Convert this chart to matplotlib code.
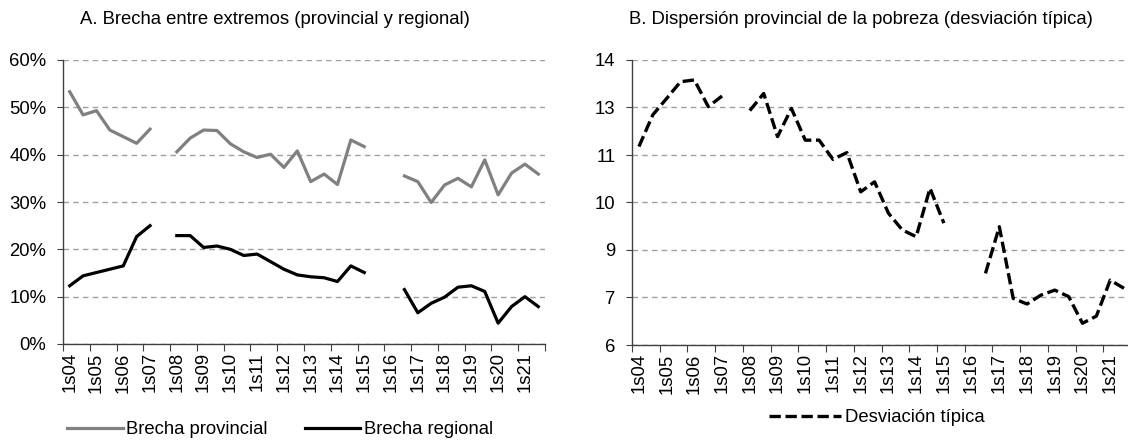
import numpy as np
import matplotlib
matplotlib.use('Agg')
import matplotlib.pyplot as plt
from matplotlib.lines import Line2D

plt.rcParams['font.family'] = ['Liberation Sans', 'DejaVu Sans']
plt.rcParams['font.size'] = 13.3

# semesters 1s04 .. 2s21
years = list(range(4, 22))
semesters = []
for y in years:
    semesters += ['1s%02d' % y, '2s%02d' % y]
tick_labels = ['1s%02d' % y for y in years]

nan = np.nan
# A. gap between extremes (%)
brecha_provincial = [53.3, 48.4, 49.3, 45.2, 43.8, 42.4, 45.4, nan,
                     40.6, 43.5, 45.2, 45.1, 42.3, 40.6, 39.4, 40.1,
                     37.3, 40.8, 34.3, 35.9, 33.7, 43.1, 41.7, nan,
                     nan, 35.5, 34.3, 29.9, 33.6, 35.0, 33.2, 38.9,
                     31.5, 36.1, 38.0, 35.9]
brecha_regional = [12.3, 14.4, 15.1, 15.8, 16.5, 22.7, 25.0, nan,
                   22.9, 22.9, 20.4, 20.7, 20.0, 18.7, 19.0, 17.4,
                   15.8, 14.6, 14.2, 14.0, 13.2, 16.5, 15.1, nan,
                   nan, 11.5, 6.6, 8.6, 9.9, 12.0, 12.3, 11.1,
                   4.4, 7.9, 10.0, 7.9]
# B. standard deviation
desviacion = [11.57, 12.46, 12.92, 13.39, 13.44, 12.69, 12.99, nan,
              12.58, 13.06, 11.85, 12.64, 11.75, 11.75, 11.21, 11.40,
              10.30, 10.58, 9.70, 9.23, 9.04, 10.40, 9.42, nan,
              nan, 8.01, 9.32, 7.31, 7.15, 7.40, 7.54, 7.36,
              6.61, 6.81, 7.82, 7.59]

W, H = 1128, 441
fig = plt.figure(figsize=(W / 100, H / 100), dpi=100)
ax0 = fig.add_axes([63 / W, 1 - 344 / H, (545 - 63) / W, (344 - 60) / H])
ax1 = fig.add_axes([632 / W, 1 - 345 / H, (1131 - 632) / W, (345 - 60) / H])

x = np.arange(len(semesters))
grid_kw = dict(color='#a0a0a0', lw=1.0, ls=(0, (4, 3)))
spine_col = '#404040'
dash = (0, (3.4, 1.4))


def style_axis(ax):
    for s in ['top', 'right']:
        ax.spines[s].set_visible(False)
    for s in ['left', 'bottom']:
        ax.spines[s].set_color(spine_col)
        ax.spines[s].set_linewidth(1.0)
    ax.set_xlim(-0.5, len(semesters) - 0.5)
    ax.set_xticks(np.arange(-0.5, len(semesters), 2))
    ax.set_xticklabels([])
    ax.set_xticks(np.arange(0, len(semesters), 2), minor=True)
    ax.set_xticklabels(tick_labels, minor=True, rotation=90)
    ax.tick_params(axis='x', which='major', length=5, direction='out',
                   color=spine_col)
    ax.tick_params(axis='x', which='minor', length=0, pad=6)
    ax.tick_params(axis='y', length=4, direction='out', color=spine_col,
                   pad=8)
    ax.yaxis.grid(True, **grid_kw)
    ax.set_axisbelow(True)


style_axis(ax0)
ax0.plot(x, brecha_provincial, color='#808080', lw=2.3)
ax0.plot(x, brecha_regional, color='black', lw=2.3)
ax0.set_ylim(0, 60)
ax0.set_yticks(np.arange(0, 61, 10))
ax0.set_yticklabels(['%d%%' % v for v in range(0, 61, 10)])

style_axis(ax1)
ax1.plot(x, desviacion, color='black', lw=2.4, ls=dash)
ax1.set_ylim(6, 14)
yt = np.linspace(6, 14, 7)
ax1.set_yticks(yt)
ax1.set_yticklabels(['%.0f' % v for v in yt])

fig.text(80 / W, 1 - 20 / H,
         'A. Brecha entre extremos (provincial y regional)',
         ha='left', va='center')
fig.text(629 / W, 1 - 20 / H,
         'B. Dispersión provincial de la pobreza (desviación típica)',
         ha='left', va='center')

h0 = [Line2D([], [], color='#808080', lw=2.3),
      Line2D([], [], color='black', lw=2.3)]
fig.legend(h0, ['Brecha provincial', 'Brecha regional'],
           loc='center', bbox_to_anchor=(280 / W, 1 - 430 / H),
           ncol=2, frameon=False, handlelength=3.0, handletextpad=0.2,
           columnspacing=2.0, borderpad=0, borderaxespad=0)
h1 = [Line2D([], [], color='black', lw=2.4, ls=dash)]
fig.legend(h1, ['Desviación típica'],
           loc='center', bbox_to_anchor=(877 / W, 1 - 418 / H),
           frameon=False, handlelength=3.9, handletextpad=0.2,
           borderpad=0, borderaxespad=0)

fig.savefig('out.png', dpi=100)
